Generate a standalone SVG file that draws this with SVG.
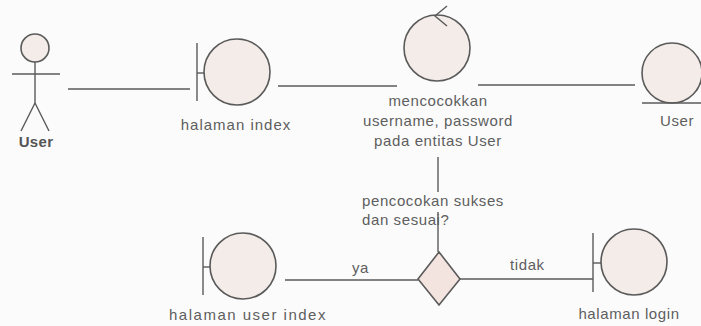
<svg xmlns="http://www.w3.org/2000/svg" width="701" height="326" viewBox="0 0 701 326">
<style>
.s{stroke:#5a5a5a;stroke-width:1.4;fill:none}
.f{fill:#f3ece8;stroke:#5a5a5a;stroke-width:1.6}
.t{font-family:"Liberation Sans",Arial,sans-serif;font-size:15px;fill:#5e5e5e;letter-spacing:0.6px}
.m{text-anchor:middle}
</style>
<rect width="701" height="326" fill="#fbfbfb"/>
<g id="connectors">
<line class="s" x1="68" y1="89" x2="190" y2="89"/>
<line class="s" x1="278" y1="86" x2="397" y2="86"/>
<line class="s" x1="478" y1="85" x2="635" y2="85"/>
<line class="s" x1="438" y1="157" x2="438" y2="192"/>
<line class="s" x1="438" y1="212" x2="438" y2="252"/>
<line class="s" x1="285" y1="280" x2="418" y2="280"/>
<line class="s" x1="460" y1="279" x2="593" y2="279"/>
<text class="t" x="352" y="273">ya</text>
<text class="t" x="510" y="270">tidak</text>
</g>
<g id="actor-user">
<circle class="f" cx="35" cy="48" r="14"/>
<line class="s" x1="12" y1="74" x2="60" y2="74"/>
<line class="s" x1="35" y1="62" x2="35" y2="103"/>
<line class="s" x1="35" y1="103" x2="21" y2="131"/>
<line class="s" x1="35" y1="103" x2="49" y2="131"/>
<text class="t m" x="36" y="147" style="font-weight:bold;fill:#555;letter-spacing:0.3px">User</text>
</g>
<g id="halaman-index">
<line class="s" x1="197" y1="43" x2="197" y2="101"/>
<line class="s" x1="197" y1="73" x2="204" y2="73"/>
<circle class="f" cx="237" cy="72" r="33"/>
<text class="t m" x="236" y="130" style="letter-spacing:1px">halaman index</text>
</g>
<g id="control">
<circle class="f" cx="437" cy="48" r="33"/>
<polyline class="s" points="447,6 435,16 447,26"/>
<text class="t m" x="438" y="106">mencocokkan</text>
<text class="t m" x="438" y="126">username, password</text>
<text class="t m" x="438" y="146">pada entitas User</text>
</g>
<g id="entity-user">
<circle class="f" cx="672" cy="73" r="30"/>
<line class="s" x1="642" y1="103" x2="701" y2="103"/>
<text class="t m" x="677" y="126">User</text>
</g>
<g id="decision">
<polygon class="f" points="439,252 460,279 439,305 418,279" style="fill:#f3e4e0"/>
<text class="t" x="362" y="206">pencocokan sukses</text>
<text class="t" x="362" y="225">dan sesuai?</text>
</g>
<g id="halaman-user-index">
<line class="s" x1="203" y1="237" x2="203" y2="295"/>
<line class="s" x1="203" y1="267" x2="210" y2="267"/>
<circle class="f" cx="243" cy="266" r="33"/>
<text class="t m" x="248" y="320" style="letter-spacing:1.5px">halaman user index</text>
</g>
<g id="halaman-login">
<line class="s" x1="593" y1="233" x2="593" y2="292"/>
<line class="s" x1="593" y1="263" x2="602" y2="263"/>
<circle class="f" cx="634" cy="262" r="33"/>
<text class="t m" x="629" y="319">halaman login</text>
</g>
</svg>
